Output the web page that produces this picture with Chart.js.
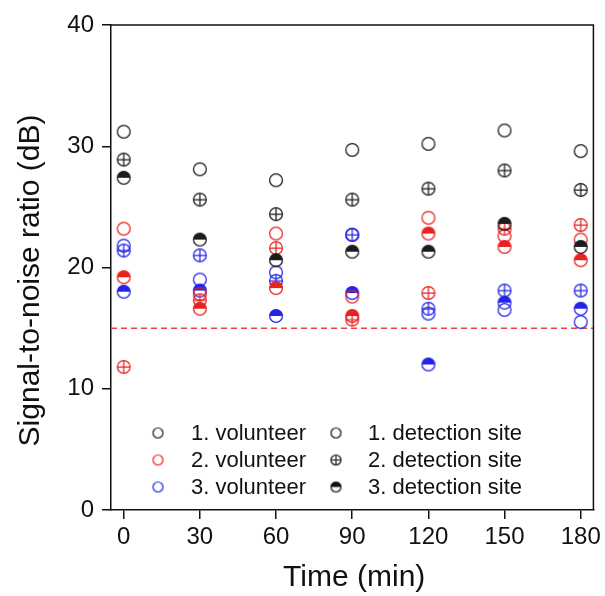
<!DOCTYPE html>
<html><head><meta charset="utf-8">
<script src="https://cdn.jsdelivr.net/npm/chart.js@4.4.0/dist/chart.umd.min.js"></script>
<style>html,body{margin:0;padding:0;background:#fff}</style>
</head><body>
<canvas id="c" width="605" height="596"></canvas>
<script>
// ---- data ----
const timePoints = [0, 30, 60, 90, 120, 150, 180];
const xTicks = [0, 30, 60, 90, 120, 150, 180];
const yTicks = [0, 10, 20, 30, 40];
const threshold = 15;

const v1Site1 = [31.2, 28.1, 27.2, 29.7, 30.2, 31.3, 29.6];
const v1Site2 = [28.9, 25.6, 24.4, 25.6, 26.5, 28.0, 26.4];
const v1Site3 = [27.4, 22.3, 20.6, 21.3, 21.3, 23.6, 21.7];
const v2Site1 = [23.2, 17.8, 22.8, 17.6, 24.1, 22.6, 22.3];
const v2Site2 = [11.8, 17.3, 21.6, 15.7, 17.9, 23.2, 23.5];
const v2Site3 = [19.2, 16.6, 18.3, 16.0, 22.8, 21.7, 20.6];
const v3Site1 = [21.8, 19.0, 19.6, 22.7, 16.2, 16.5, 15.5];
const v3Site2 = [21.4, 21.0, 18.9, 22.7, 16.6, 18.1, 18.1];
const v3Site3 = [18.0, 18.1, 16.0, 17.9, 12.0, 17.1, 16.6];

const volunteerLabels = ['1. volunteer', '2. volunteer', '3. volunteer'];
const siteLabels = ['1. detection site', '2. detection site', '3. detection site'];
const xTitle = 'Time (min)';
const yTitle = 'Signal-to-noise ratio (dB)';
const volunteerColors = ['#1c1c1c', '#e8231f', '#2424e6'];
const siteKinds = ['open', 'cross', 'half'];

const FONT = "'Liberation Sans', Arial, sans-serif";

function makeMarker(color, kind, r, lw) {
  const s = Math.ceil(2 * r + lw + 3);
  const c = document.createElement('canvas');
  c.width = s; c.height = s;
  const g = c.getContext('2d');
  const m = s / 2;
  g.strokeStyle = color; g.fillStyle = color; g.lineWidth = lw;
  if (kind === 'half') {
    g.beginPath(); g.arc(m, m, r, Math.PI, 2 * Math.PI); g.closePath(); g.fill();
  }
  g.beginPath(); g.arc(m, m, r, 0, 2 * Math.PI); g.stroke();
  if (kind === 'cross') {
    g.beginPath();
    g.moveTo(m - r, m); g.lineTo(m + r, m);
    g.moveTo(m, m - r); g.lineTo(m, m + r);
    g.stroke();
  }
  return c;
}

const seriesValues = [
  [v1Site1, v1Site2, v1Site3],
  [v2Site1, v2Site2, v2Site3],
  [v3Site1, v3Site2, v3Site3]
];

const datasets = [];
seriesValues.forEach((sites, vi) => {
  sites.forEach((vals, si) => {
    datasets.push({
      type: 'scatter',
      label: volunteerLabels[vi] + ' / ' + siteLabels[si],
      data: timePoints.map((t, i) => ({ x: t, y: vals[i] })),
      pointStyle: makeMarker(volunteerColors[vi], siteKinds[si], 6.4, 1.25),
      pointRadius: 7,
      showLine: false
    });
  });
});
datasets.push({
  type: 'line',
  label: 'threshold',
  data: [{ x: -5, y: threshold }, { x: 185, y: threshold }],
  borderColor: '#ee4040',
  borderWidth: 1.5,
  borderDash: [6, 4],
  pointRadius: 0,
  fill: false
});

const frameAndLegend = {
  id: 'frameAndLegend',
  afterDraw(chart) {
    const { ctx, chartArea: a } = chart;
    ctx.save();
    ctx.strokeStyle = '#111';
    ctx.lineWidth = 1.5;
    ctx.beginPath();
    ctx.moveTo(a.left, a.top); ctx.lineTo(a.right, a.top); ctx.lineTo(a.right, a.bottom);
    ctx.stroke();
    // axis titles
    ctx.fillStyle = '#111';
    ctx.font = '30px ' + FONT;
    ctx.textAlign = 'center';
    ctx.textBaseline = 'middle';
    ctx.fillText(xTitle, (a.left + a.right) / 2 + 2, 578);
    ctx.save();
    ctx.translate(31, (a.top + a.bottom) / 2 + 13);
    ctx.rotate(-Math.PI / 2);
    ctx.fillText(yTitle, 0, 0);
    ctx.restore();
    // legend
    const rowY = [a.bottom - 77, a.bottom - 50, a.bottom - 23];
    const col1Marker = a.left + 47, col1Text = a.left + 80;
    const col2Marker = a.left + 225, col2Text = a.left + 257;
    ctx.font = '22px ' + FONT;
    ctx.textBaseline = 'middle';
    ctx.textAlign = 'left';
    for (let i = 0; i < 3; i++) {
      const m1 = makeMarker(volunteerColors[i], 'open', 5, 1.2);
      ctx.drawImage(m1, col1Marker - m1.width / 2, rowY[i] - m1.height / 2);
      ctx.fillText(volunteerLabels[i], col1Text, rowY[i] + 1);
      const m2 = makeMarker('#111', siteKinds[i], 5, 1.2);
      ctx.drawImage(m2, col2Marker - m2.width / 2, rowY[i] - m2.height / 2);
      ctx.fillText(siteLabels[i], col2Text, rowY[i] + 1);
    }
    ctx.restore();
  }
};

new Chart(document.getElementById('c'), {
  data: { datasets },
  options: {
    responsive: false,
    animation: false,
    devicePixelRatio: 1,
    layout: { padding: { top: 25, right: 10, left: 0, bottom: 0 } },
    plugins: { legend: { display: false }, tooltip: { enabled: false } },
    scales: {
      x: {
        type: 'linear', min: -5, max: 185,
        afterBuildTicks: s => { s.ticks = xTicks.map(v => ({ value: v })); },
        afterFit: s => { s.height = 86; },
        grid: { drawOnChartArea: false, drawTicks: true, tickLength: 9, color: '#111', lineWidth: 1.5 },
        border: { display: true, color: '#111', width: 1.5 },
        ticks: { font: { family: FONT, size: 24 }, color: '#111', padding: 4, maxRotation: 0 },
        title: { display: false }
      },
      y: {
        type: 'linear', min: 0, max: 40,
        afterBuildTicks: s => { s.ticks = yTicks.map(v => ({ value: v })); },
        afterFit: s => { s.width = 111; },
        grid: { drawOnChartArea: false, drawTicks: true, tickLength: 9, color: '#111', lineWidth: 1.5 },
        border: { display: true, color: '#111', width: 1.5 },
        ticks: { font: { family: FONT, size: 24 }, color: '#111', padding: 8 },
        title: { display: false }
      }
    }
  },
  plugins: [frameAndLegend]
});
</script>
</body></html>
